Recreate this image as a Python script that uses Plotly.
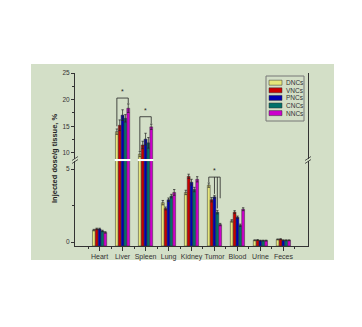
import plotly.graph_objects as go

categories = ["Heart", "Liver", "Spleen", "Lung", "Kidney", "Tumor", "Blood", "Urine", "Feces"]
DNCs = [0.82, 14.0, 9.8, 2.70, 3.40, 3.90, 1.45, 0.12, 0.18]
VNCs = [0.90, 15.2, 11.5, 2.30, 4.50, 2.90, 2.05, 0.14, 0.20]
PNCs = [0.90, 17.1, 12.6, 2.90, 4.10, 3.10, 1.70, 0.10, 0.12]
CNCs = [0.76, 16.5, 11.9, 3.15, 3.60, 2.05, 1.15, 0.10, 0.12]
NNCs = [0.66, 18.4, 14.9, 3.40, 4.30, 1.20, 2.25, 0.10, 0.12]
DNCs_err = [0.05, 0.5, 0.5, 0.15, 0.15, 0.15, 0.08, 0.03, 0.03]
VNCs_err = [0.05, 1.0, 0.7, 0.10, 0.15, 0.15, 0.10, 0.03, 0.03]
PNCs_err = [0.05, 1.0, 1.1, 0.12, 0.20, 0.10, 0.08, 0.03, 0.03]
CNCs_err = [0.05, 0.7, 1.0, 0.12, 0.15, 0.12, 0.08, 0.03, 0.03]
NNCs_err = [0.05, 0.8, 0.5, 0.20, 0.18, 0.08, 0.10, 0.03, 0.03]
series_names = ["DNCs", "VNCs", "PNCs", "CNCs", "NNCs"]
colors = ["#e6e67a", "#cc0000", "#0000b4", "#00706a", "#cc00cc"]

series = [DNCs, VNCs, PNCs, CNCs, NNCs]
errs = [DNCs_err, VNCs_err, PNCs_err, CNCs_err, NNCs_err]
xpos = list(range(len(categories)))

BASE = -0.27
LOW_RANGE = [BASE, 5.55]
HIGH_RANGE = [8.875, 25]
LOW_DOM = [0, 0.491]
HIGH_DOM = [0.503, 1]

fig = go.Figure()
for name, vals, err, col in zip(series_names, series, errs, colors):
    for ax in ["y", "y2"]:
        fig.add_trace(go.Bar(
            x=xpos, y=[v - BASE for v in vals], base=BASE, name=name,
            marker=dict(color=col, line=dict(color="#333333", width=0.5)),
            error_y=dict(type="data", array=err, color="#222222", thickness=0.7, width=1.2),
            yaxis=ax, showlegend=False, offsetgroup=name,
        ))

font = "Liberation Sans, Arial, sans-serif"
axcol = "#333333"

fig.update_layout(
    width=362, height=327,
    margin=dict(l=75, r=54, t=73, b=81),
    paper_bgcolor="white",
    plot_bgcolor="rgba(0,0,0,0)",
    barmode="group", bargap=0.38, bargroupgap=0,
    font=dict(family=font, size=7, color=axcol),
    xaxis=dict(range=[-1.07, 9.07], tickvals=xpos, ticktext=categories, tickangle=0,
               showline=True, linecolor=axcol, linewidth=1, ticks="outside",
               ticklen=4, tickcolor=axcol, showgrid=False, zeroline=False,
               anchor="y", tickfont=dict(size=7, color=axcol),
               minor=dict(tick0=0.5, dtick=1, ticks="outside", ticklen=2, tickcolor=axcol)),
    xaxis2=dict(range=[-1.07, 9.07], matches="x", anchor="y2", side="top",
                showline=True, linecolor=axcol, linewidth=1, showticklabels=False,
                ticks="", showgrid=False, zeroline=False, overlaying="x"),
    yaxis=dict(domain=LOW_DOM, range=LOW_RANGE, tickvals=[0, 5], showline=True,
               linecolor=axcol, linewidth=1, mirror=True, ticks="outside", ticklen=3,
               tickcolor=axcol, showgrid=False, zeroline=False, tickfont=dict(size=6.5),
               minor=dict(tick0=0, dtick=2.5, ticks="outside", ticklen=2, tickcolor=axcol)),
    yaxis2=dict(domain=HIGH_DOM, range=HIGH_RANGE, tickvals=[10, 15, 20, 25], showline=True,
                linecolor=axcol, linewidth=1, mirror=True, ticks="outside", ticklen=3,
                tickcolor=axcol, showgrid=False, zeroline=False, tickfont=dict(size=6.5),
                anchor="x",
                minor=dict(tick0=0, dtick=2.5, ticks="outside", ticklen=2, tickcolor=axcol)),
    showlegend=False,
)

def px_x(p):
    return (p - 75) / 233.0

def px_y(p):
    return (246 - p) / 173.0

shapes = []
# green background panel
shapes.append(dict(type="rect", xref="paper", yref="paper", x0=px_x(31), x1=px_x(334),
                   y0=px_y(260), y1=px_y(64), fillcolor="#d3dfc7", line=dict(width=0), layer="below"))
# white break bands through Liver & Spleen bars
for c in [1, 2]:
    shapes.append(dict(type="rect", xref="x", yref="paper", x0=c - 0.34, x1=c + 0.34,
                       y0=LOW_DOM[1], y1=HIGH_DOM[0], fillcolor="white", line=dict(width=0)))
# axis break marks
for xp in [75, 308]:
    for dy in [-1.5, 1.5]:
        shapes.append(dict(type="line", xref="paper", yref="paper",
                           x0=px_x(xp - 3), x1=px_x(xp + 3),
                           y0=px_y(160 + dy + 2), y1=px_y(160 + dy - 2),
                           line=dict(color=axcol, width=0.8)))

off = [-0.248, -0.124, 0.0, 0.124, 0.248]
# significance brackets
def bracket(cat, yref, top, legs):
    out = []
    xs = [cat + off[i] for i, _ in legs]
    out.append(dict(type="line", xref="x", yref=yref, x0=min(xs), x1=max(xs), y0=top, y1=top,
                    line=dict(color="#222222", width=0.8)))
    for i, bottom in legs:
        out.append(dict(type="line", xref="x", yref=yref, x0=cat + off[i], x1=cat + off[i],
                        y0=top, y1=bottom, line=dict(color="#222222", width=0.8)))
    return out

shapes += bracket(1, "y2", 20.3, [(0, 15.0), (4, 19.3)])
shapes += bracket(2, "y2", 16.8, [(0, 10.4), (4, 15.5)])
shapes += bracket(5, "y", 4.45, [(0, 4.1), (2, 3.3), (3, 2.3), (4, 3.0)])

ann = []
ann.append(dict(x=1, y=20.5, xref="x", yref="y2", text="*", showarrow=False,
                font=dict(size=7, color="#222222"), yanchor="bottom"))
ann.append(dict(x=2, y=17.0, xref="x", yref="y2", text="*", showarrow=False,
                font=dict(size=7, color="#222222"), yanchor="bottom"))
ann.append(dict(x=5, y=4.5, xref="x", yref="y", text="*", showarrow=False,
                font=dict(size=7, color="#222222"), yanchor="bottom"))
# y-axis title
ann.append(dict(x=px_x(54), y=px_y(158), xref="paper", yref="paper",
                xanchor="center", yanchor="middle",
                text="<b>Injected dose/g tissue, %</b>", textangle=-90, showarrow=False,
                font=dict(size=7.5, color="#222222")))

# manual legend
shapes.append(dict(type="rect", xref="paper", yref="paper", x0=px_x(266), x1=px_x(304),
                   y0=px_y(121), y1=px_y(76), line=dict(color="#777777", width=1),
                   fillcolor="rgba(0,0,0,0)"))
rows = [82.7, 90.3, 97.9, 105.5, 113.1]
for name, col, ry in zip(series_names, colors, rows):
    shapes.append(dict(type="rect", xref="paper", yref="paper", x0=px_x(269), x1=px_x(282),
                       y0=px_y(ry + 2.5), y1=px_y(ry - 2.5), fillcolor=col,
                       line=dict(color="#333333", width=0.5)))
    ann.append(dict(x=px_x(284), y=px_y(ry), xref="paper", yref="paper", text=name,
                    showarrow=False, xanchor="left", yanchor="middle",
                    font=dict(size=6.5, color="#333333")))

fig.update_layout(shapes=shapes, annotations=ann)
fig.write_html("out.html")
